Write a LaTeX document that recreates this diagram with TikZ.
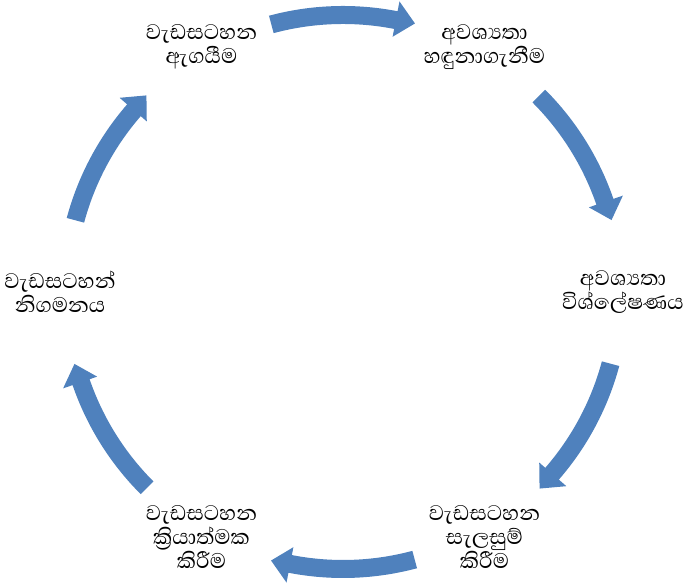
\documentclass[tikz,border=0pt]{standalone}
\usepackage{fontspec}
\newfontfamily\sinhala[Script=Sinhala]{Abhaya Libre}
\definecolor{cycleblue}{RGB}{79,129,189}
% block arrow on the ring, centred at angle #1, running clockwise
\newcommand{\cyclearrow}[1]{%
  \fill[cycleblue] (#1+15:286) arc[start angle=#1+15, end angle=#1-11, radius=286]
    -- (#1-11:296) -- (#1-15:278) -- (#1-11:260) -- (#1-11:268)
    arc[start angle=#1-11, end angle=#1+15, radius=268] -- cycle;}
\begin{document}
\begin{tikzpicture}[x=0.5pt,y=0.5pt,
    stage/.style={align=center,font=\sinhala\fontsize{13.5}{12}\selectfont,inner sep=1pt}]
  \useasboundingbox (0,0) rectangle (687,588);
  \begin{scope}[shift={(343,296)}]
    \node[stage] (need)  at (60:283)   {අවශ්^^^^200dයතා\\හඳුනාගැනීම};
    \node[stage] (anal)  at (0:280)    {අවශ්^^^^200dයතා\\විශ්ලේෂණය};
    \node[stage] (plan)  at (-60:283)  {වැඩසටහන\\සැලසුම්\\කිරීම};
    \node[stage] (impl)  at (-120:283) {වැඩසටහන\\ක්^^^^200dරියාත්මක\\කිරීම};
    \node[stage] (concl) at (180:283)  {වැඩසටහන්\\නිගමනය};
    \node[stage] (eval)  at (120:283)  {වැඩසටහන\\ඇගයීම};
    \foreach \m in {90,30,-30,-90,-150,150}
      {\cyclearrow{\m}}
  \end{scope}
\end{tikzpicture}
\end{document}
